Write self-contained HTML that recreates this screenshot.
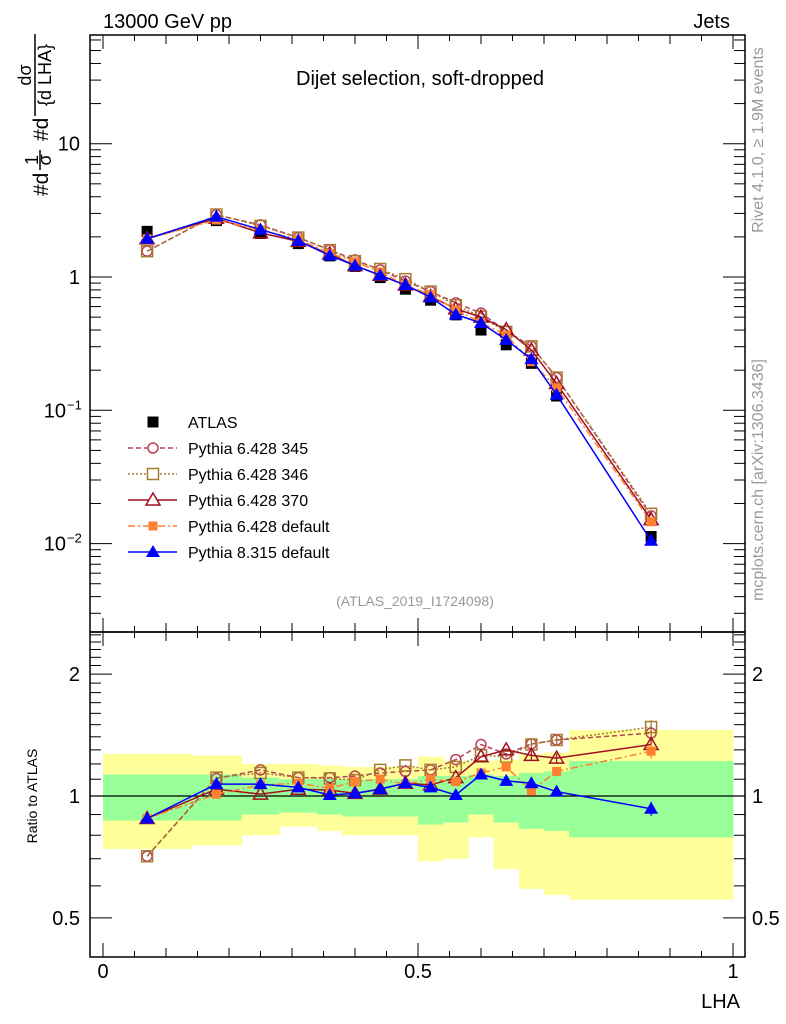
<!DOCTYPE html>
<html><head><meta charset="utf-8">
<style>
body{margin:0;background:#fff;}
svg{display:block;font-family:"Liberation Sans",sans-serif;}
</style></head>
<body>
<svg id="chart" width="786" height="1024" viewBox="0 0 786 1024" xmlns="http://www.w3.org/2000/svg">
<text x="103" y="28" font-size="20">13000 GeV pp</text>
<text x="730" y="28" font-size="20" text-anchor="end">Jets</text>
<text x="420" y="85" font-size="20" text-anchor="middle">Dijet selection, soft-dropped</text>
<text x="415" y="606" font-size="14" fill="#999" text-anchor="middle">(ATLAS_2019_I1724098)</text>
<text transform="translate(763,140) rotate(-90)" font-size="16" fill="#999" text-anchor="middle">Rivet 4.1.0, ≥ 1.9M events</text>
<text transform="translate(763,480) rotate(-90)" font-size="16" fill="#999" text-anchor="middle">mcplots.cern.ch [arXiv:1306.3436]</text>
<g font-size="21">
<text transform="translate(48,196) rotate(-90)">#d</text>
<text transform="translate(38,160) rotate(-90)" font-size="18" text-anchor="middle">1</text>
<line x1="40" x2="40" y1="150" y2="170" stroke="#000" stroke-width="1.5"/>
<text transform="translate(51,160) rotate(-90)" font-size="18" text-anchor="middle">σ</text>
<text transform="translate(48,141) rotate(-90)">#d</text>
<text transform="translate(31,75) rotate(-90)" font-size="18" text-anchor="middle">dσ</text>
<line x1="35" x2="35" y1="34" y2="116" stroke="#000" stroke-width="1.5"/>
<text transform="translate(51,75) rotate(-90)" font-size="18" text-anchor="middle">{d LHA}</text>
</g>
<text transform="translate(37,796) rotate(-90)" font-size="14" text-anchor="middle">Ratio to ATLAS</text>
<text x="740" y="1008" font-size="20" text-anchor="end">LHA</text>
<g id="g"></g>
</svg>
<script>
const edges=[0,0.14,0.22,0.28,0.34,0.38,0.42,0.46,0.5,0.54,0.58,0.62,0.66,0.70,0.74,1.0];
const lha=[0.07,0.18,0.25,0.31,0.36,0.40,0.44,0.48,0.52,0.56,0.60,0.64,0.68,0.72,0.87];
const atlas=[2.2,2.65,2.12,1.78,1.44,1.2,0.99,0.81,0.67,0.52,0.40,0.31,0.225,0.128,0.0113];
const yelLo=[0.74,0.755,0.80,0.84,0.82,0.80,0.80,0.80,0.69,0.70,0.79,0.66,0.59,0.57,0.555];
const yelHi=[1.27,1.26,1.20,1.20,1.19,1.18,1.18,1.18,1.25,1.22,1.22,1.23,1.27,1.28,1.455];
const grnLo=[0.87,0.87,0.90,0.91,0.90,0.89,0.89,0.89,0.85,0.86,0.90,0.86,0.83,0.82,0.79];
const grnHi=[1.13,1.13,1.11,1.10,1.10,1.10,1.10,1.10,1.12,1.12,1.13,1.12,1.14,1.15,1.22];
const r345=[0.71,1.105,1.16,1.11,1.11,1.12,1.14,1.15,1.16,1.23,1.34,1.27,1.345,1.375,1.43];
const r346=[0.71,1.11,1.14,1.11,1.105,1.095,1.16,1.19,1.16,1.18,1.26,1.25,1.34,1.375,1.48];
const r370=[0.88,1.04,1.011,1.039,1.035,1.015,1.04,1.075,1.065,1.11,1.25,1.30,1.26,1.24,1.34];
const rdef=[0.88,1.01,1.065,1.075,1.045,1.085,1.1,1.07,1.1,1.085,1.14,1.18,1.03,1.15,1.29];
const r8=[0.88,1.07,1.07,1.05,1.006,1.015,1.04,1.075,1.05,1.006,1.13,1.09,1.075,1.025,0.93];
const xTicks=[0,0.5,1];
const xTickLabels=["0","0.5","1"];
const mainTicks=[0.01,0.1,1,10];
const mainTickLabels=["10","10","1","10"];
const mainTickExp=["−2","−1","",""];
const ratioTicks=[0.5,1,2];
const ratioTickLabels=["0.5","1","2"];

const NS="http://www.w3.org/2000/svg";
const g=document.getElementById('g');
const L=90,R=745,T=35,MB=632,RB=957;
const X=v=>103+630*v;
const YM=v=>277-133.3*Math.log10(v);
const YR=v=>796-405*Math.log10(v);
function mk(tag,attrs,parent){const e=document.createElementNS(NS,tag);for(const k in attrs)e.setAttribute(k,attrs[k]);(parent||g).appendChild(e);return e;}

for(let i=0;i<lha.length;i++){
  const x0=X(edges[i]),x1=X(edges[i+1]);
  let y=mk('rect',{x:x0,y:YR(yelHi[i]),width:x1-x0+0.5,height:YR(yelLo[i])-YR(yelHi[i]),fill:'#ffff99'});
  
  
  let gr=mk('rect',{x:x0,y:YR(grnHi[i]),width:x1-x0+0.5,height:YR(grnLo[i])-YR(grnHi[i]),fill:'#99ff99'});
  
  
}
mk('line',{x1:L,x2:R,y1:YR(1),y2:YR(1),stroke:'#000','stroke-width':1.3});

const f1=mk('rect',{x:L,y:T,width:R-L,height:MB-T,fill:'none',stroke:'#000','stroke-width':1.5});


const f2=mk('rect',{x:L,y:MB,width:R-L,height:RB-MB,fill:'none',stroke:'#000','stroke-width':1.5});



for(let k=0;k<=20;k++){
  const v=k*0.05,x=X(v);
  const len=(k%10===0)?14:(k%2===0?9:6);
  for(const [yt,yb] of [[T,MB],[MB,RB]]){
    mk('line',{x1:x,x2:x,y1:yb,y2:yb-len,stroke:'#000'});
    mk('line',{x1:x,x2:x,y1:yt,y2:yt+len,stroke:'#000'});
  }
}
xTicks.forEach((v,i)=>{const t=mk('text',{x:X(v),y:978,'font-size':20,'text-anchor':'middle'});t.textContent=xTickLabels[i];

});

for(let d=-3;d<=1;d++){for(let m=1;m<=9;m++){const v=m*Math.pow(10,d);const y=YM(v);if(y<T||y>MB)continue;
  const len=m===1?22:11;mk('line',{x1:L,x2:L+len,y1:y,y2:y,stroke:'#000'});mk('line',{x1:R,x2:R-len,y1:y,y2:y,stroke:'#000'});}}
mainTicks.forEach((v,i)=>{const t=mk('text',{x:80,y:YM(v)+7,'font-size':20,'text-anchor':'end'});t.textContent=mainTickLabels[i];


if(mainTickExp[i]){t.setAttribute('x',66);const e=mk('text',{x:67,y:YM(v)-1,'font-size':13});e.textContent=mainTickExp[i];}});

for(let v=0.4;v<=2.5;v=+(v+0.1).toFixed(1)){const y=YR(v);if(y<MB||y>RB)continue;const big=(v===0.5||v===1||v===2);const len=big?22:11;
  mk('line',{x1:L,x2:L+len,y1:y,y2:y,stroke:'#000'});mk('line',{x1:R,x2:R-len,y1:y,y2:y,stroke:'#000'});}
ratioTicks.forEach((v,i)=>{for(const [x,a] of [[80,'end'],[752,'start']]){const t=mk('text',{x:x,y:YR(v)+7,'font-size':20,'text-anchor':a});t.textContent=ratioTickLabels[i];

}});

const series=[
 {name:'pythia-6428-345',r:r345,c:'#b8405a',dash:'5,3',m:'circle'},
 {name:'pythia-6428-346',r:r346,c:'#a87a30',dash:'2,2',m:'square-open'},
 {name:'pythia-6428-370',r:r370,c:'#a01020',dash:'',m:'tri-open'},
 {name:'pythia-6428-default',r:rdef,c:'#ff8030',dash:'7,3,2,3',m:'square'},
 {name:'pythia-8315-default',r:r8,c:'#0000ff',dash:'',m:'tri'}
];
function marker(type,x,y,c,parent){
  if(type==='circle')return mk('circle',{cx:x,cy:y,r:5,fill:'none',stroke:c,'stroke-width':1.5},parent);
  if(type==='square-open')return mk('rect',{x:x-5.5,y:y-5.5,width:11,height:11,fill:'none',stroke:c,'stroke-width':1.5},parent);
  if(type==='square')return mk('rect',{x:x-4.5,y:y-4.5,width:9,height:9,fill:c},parent);
  if(type==='black')return mk('rect',{x:x-5.5,y:y-5.5,width:11,height:11,fill:'#000'},parent);
  const p=`${x},${y-7} ${x-7},${y+5} ${x+7},${y+5}`;
  if(type==='tri-open')return mk('polygon',{points:p,fill:'none',stroke:c,'stroke-width':1.5},parent);
  return mk('polygon',{points:p,fill:c},parent);
}
atlas.forEach((v,i)=>{const m=marker('black',X(lha[i]),YM(v));

});
series.forEach(s=>{
  const grp=mk('g',{});
  
  
  const mp=lha.map((v,i)=>X(v)+','+YM(atlas[i]*s.r[i])).join(' ');
  mk('polyline',{points:mp,fill:'none',stroke:s.c,'stroke-width':1.5,'stroke-dasharray':s.dash},grp);
  lha.forEach((v,i)=>marker(s.m,X(v),YM(atlas[i]*s.r[i]),s.c,grp));
  const rp=lha.map((v,i)=>X(v)+','+YR(s.r[i])).join(' ');
  mk('polyline',{points:rp,fill:'none',stroke:s.c,'stroke-width':1.5,'stroke-dasharray':s.dash},grp);
  lha.forEach((v,i)=>{
    if(i>=12){const e=i===14?0.04:0.025;mk('line',{x1:X(v),x2:X(v),y1:YR(s.r[i]*(1+e)),y2:YR(s.r[i]*(1-e)),stroke:s.c,'stroke-width':1.2},grp);}
    marker(s.m,X(v),YR(s.r[i]),s.c,grp);
  });
});

const lg=mk('g',{});


const legNames=['ATLAS','Pythia 6.428 345','Pythia 6.428 346','Pythia 6.428 370','Pythia 6.428 default','Pythia 8.315 default'];
legNames.forEach((n,i)=>{
  const y=422+26*i;
  const e=mk('g',{},lg);
  
  
  if(i===0)marker('black',153,y,'#000',e);
  else{const s=series[i-1];mk('line',{x1:128,x2:177,y1:y,y2:y,stroke:s.c,'stroke-width':1.5,'stroke-dasharray':s.dash},e);
    const m=marker(s.m,153,y,s.c,e);m.setAttribute('fill',s.m==='circle'||s.m.indexOf('open')>0?'#fff':s.c);}
  const t=mk('text',{x:188,y:y+6,'font-size':16},e);t.textContent=n;
});
</script>
</body></html>
